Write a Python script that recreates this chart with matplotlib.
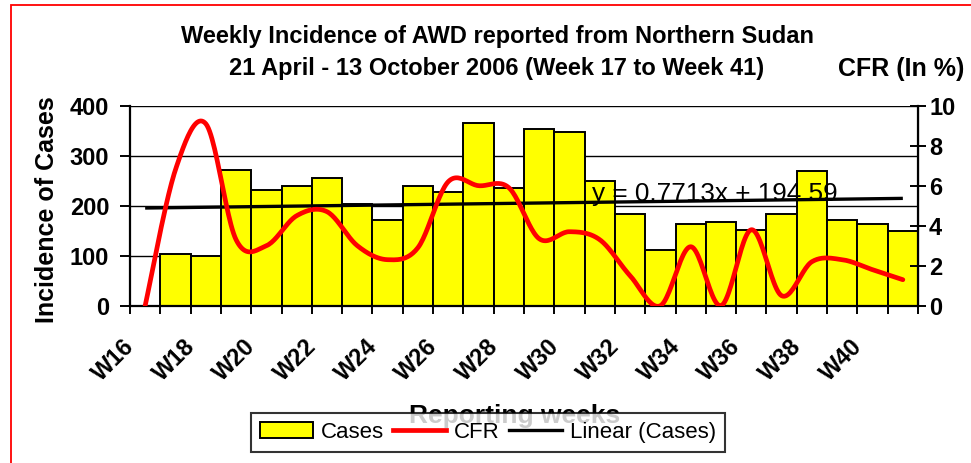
import numpy as np
import matplotlib
matplotlib.use("Agg")
import matplotlib.pyplot as plt
from matplotlib.patches import Rectangle, Patch
from matplotlib.lines import Line2D
from matplotlib.transforms import ScaledTranslation

plt.rcParams['font.family'] = ['Liberation Sans', 'DejaVu Sans']

# ---------------- data ----------------
weeks = ["W%d" % w for w in range(16, 42)]
cases = [0, 103, 100, 271, 232, 240, 256, 203, 171, 240, 228, 365, 236, 353,
         348, 249, 184, 112, 164, 168, 151, 184, 269, 172, 164, 150]
cfr = [0, 6.8, 9.1, 3.3, 3.0, 4.5, 4.7, 3.0, 2.3, 2.9, 6.2, 6.0, 5.9, 3.35,
       3.7, 3.3, 1.5, 0, 2.95, 0, 3.8, 0.5, 2.2, 2.3, 1.8, 1.3]
trend_slope = 0.7713
trend_intercept = 194.59
trend_label = "y = 0.7713x + 194.59"
left_ticks = [0, 100, 200, 300, 400]
right_ticks = [0, 2, 4, 6, 8, 10]
title1 = "Weekly Incidence of AWD reported from Northern Sudan"
title2 = "21 April - 13 October 2006 (Week 17 to Week 41)"

W, H = 971, 463
fig = plt.figure(figsize=(W / 100, H / 100), dpi=100)

def fx(px):
    return px / W

def fy(py):
    return 1 - py / H

ax_l, ax_r, ax_t, ax_b = 130, 918, 105.7, 305.7
ax = fig.add_axes([fx(ax_l), fy(ax_b), fx(ax_r - ax_l), (ax_b - ax_t) / H])
ax2 = ax.twinx()

n = len(weeks)
x = np.arange(n)

# bars
ax.bar(x, cases, width=1.0, color="#FFFF00", edgecolor="black", linewidth=1.4, zorder=2)

# trend line
xt = x + 1
ax.plot(x, trend_slope * xt + trend_intercept, color="black", lw=2.4, zorder=4,
        solid_capstyle='butt')

# trend equation text (under the line)
ax.text(592, H - 194, trend_label, transform=None, fontsize=18.8, va="center",
        ha="left", color="black", zorder=3)

ax.set_xlim(-0.5, n - 0.5)
ax.set_ylim(0, 400)
ax.set_yticks(left_ticks)
ax.yaxis.grid(True, color="black", lw=1.0)
ax.set_axisbelow(True)
for s in ["top"]:
    ax.spines[s].set_visible(False)
    ax2.spines[s].set_visible(False)
ax.spines["left"].set_linewidth(1.6)
ax.spines["bottom"].set_linewidth(1.6)
ax2.spines["right"].set_linewidth(1.6)
ax2.spines["left"].set_visible(False)
ax2.spines["bottom"].set_visible(False)

ax.tick_params(axis="y", direction="out", length=7, width=1.4, pad=8,
               labelsize=17)
for lab in ax.get_yticklabels():
    lab.set_fontweight("bold")

# x ticks: labels at centers every 2 weeks, tick marks at boundaries
ax.set_xticks(x[::2])
ax.set_xticklabels(weeks[::2], rotation=45, ha="right", fontsize=17,
                   fontweight="bold")
ax.set_xticks(np.arange(-0.5, n, 1.0), minor=True)
ax.tick_params(axis="x", which="major", length=0, pad=21)
ax.tick_params(axis="x", which="minor", direction="out", length=6, width=1.4)
off = ScaledTranslation(-6 / 100, 0, fig.dpi_scale_trans)
for lab in ax.get_xticklabels():
    lab.set_transform(lab.get_transform() + off)

# CFR smoothed (Bezier through points, Excel-style)
def smooth(xs, ys, k=24):
    xs = np.asarray(xs, float)
    ys = np.asarray(ys, float)
    P = np.column_stack([xs, ys])
    m = len(P)
    out = []
    for i in range(m - 1):
        p0 = P[i - 1] if i > 0 else P[i]
        p1 = P[i]
        p2 = P[i + 1]
        p3 = P[i + 2] if i + 2 < m else P[i + 1]
        c1 = p1 + (p2 - p0) / 6.0
        c2 = p2 - (p3 - p1) / 6.0
        t = np.linspace(0, 1, k, endpoint=(i == m - 2))[:, None]
        seg = ((1 - t) ** 3) * p1 + 3 * ((1 - t) ** 2) * t * c1 + \
              3 * (1 - t) * t ** 2 * c2 + t ** 3 * p2
        out.append(seg)
    out = np.vstack(out)
    return out[:, 0], out[:, 1]

sx, sy = smooth(x, cfr)
ax2.plot(sx, sy, color="#FF0000", lw=3.4, zorder=5, solid_capstyle='round')
ax2.set_ylim(0, 10)
ax2.set_yticks(right_ticks)
ax2.tick_params(axis="y", direction="inout", length=12, width=1.4, pad=2,
                labelsize=17)
for lab in ax2.get_yticklabels():
    lab.set_fontweight("bold")
ax2.set_xlim(-0.5, n - 0.5)

# texts
fig.text(fx(497.5), fy(36), title1, ha="center", va="center", fontsize=17,
         fontweight="bold")
fig.text(fx(497), fy(69), title2, ha="center", va="center", fontsize=17,
         fontweight="bold")
fig.text(fx(838), fy(69), "CFR (In %)", ha="left", va="center", fontsize=18,
         fontweight="bold")
fig.text(fx(47.5), fy(210), "Incidence of Cases", rotation=90, ha="center",
         va="center", fontsize=18, fontweight="bold")
fig.text(fx(515), fy(416), "Reporting weeks", ha="center", va="center",
         fontsize=19, fontweight="bold", zorder=1)

# legend
handles = [Patch(facecolor="#FFFF00", edgecolor="black", linewidth=1.4),
           Line2D([], [], color="#FF0000", lw=3.4),
           Line2D([], [], color="black", lw=2.4)]
leg = fig.legend(handles, ["Cases", "CFR", "Linear (Cases)"], loc="center",
                 bbox_to_anchor=(fx(488), fy(432.5)), ncol=3, fontsize=16,
                 frameon=True, fancybox=False, edgecolor="black",
                 handlelength=2.4, handletextpad=0.35, columnspacing=0.4,
                 borderpad=0.42, borderaxespad=0)
leg.get_frame().set_linewidth(1.5)
leg.set_zorder(10)

# red outer border
fig.patches.append(Rectangle((fx(11), -0.2), 1.5, fy(5) + 0.2,
                             transform=fig.transFigure, fill=False,
                             edgecolor="#FF0000", lw=1.3))

fig.savefig("out.png", dpi=100)
